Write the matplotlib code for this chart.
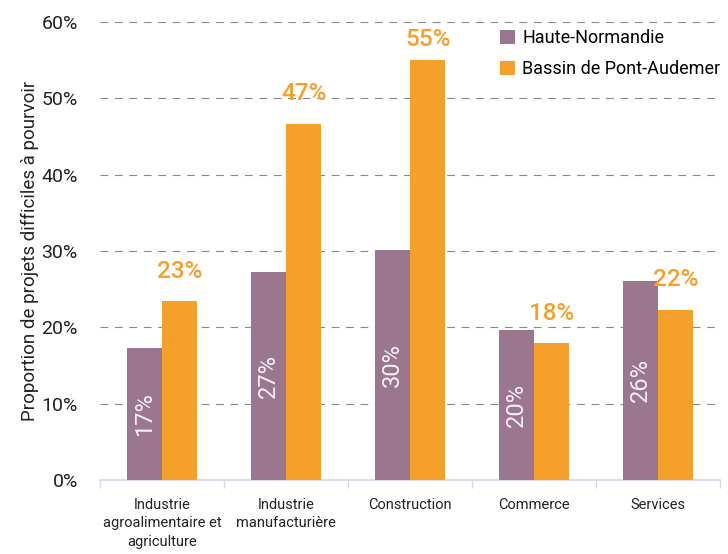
import numpy as np
import matplotlib
matplotlib.use('Agg')
import matplotlib.pyplot as plt

plt.rcParams['font.family'] = ['Roboto', 'DejaVu Sans']

categories = ['Industrie\nagroalimentaire et\nagriculture', 'Industrie\nmanufacturière',
              'Construction', 'Commerce', 'Services']
haute_normandie = [17.3, 27.3, 30.1, 19.7, 26.1]
pont_audemer = [23.4, 46.7, 55.0, 17.9, 22.3]
hn_labels = ['17%', '27%', '30%', '20%', '26%']
pa_labels = ['23%', '47%', '55%', '18%', '22%']
yticks = [0, 10, 20, 30, 40, 50, 60]

PURPLE = '#9a778f'
ORANGE = '#f6a02c'

fig = plt.figure(figsize=(7.28, 5.54), dpi=100)
ax = fig.add_axes([100/728, 74/554, 620/728, 458/554])

x = np.arange(len(categories))
w = 0.285
b1 = ax.bar(x - w/2, haute_normandie, w, color=PURPLE, label='Haute-Normandie', zorder=3)
b2 = ax.bar(x + w/2, pont_audemer, w, color=ORANGE, label='Bassin de Pont-Audemer', zorder=3)

for xi, v, lab in zip(x, haute_normandie, hn_labels):
    ax.text(xi - w/2, v/2, lab, rotation=90, ha='center', va='center',
            color='#f4eef2', fontsize=17, zorder=4)
for xi, v, lab in zip(x, pont_audemer, pa_labels):
    ax.text(xi + w/2, min(v + 2.4, 56.2), lab, ha='center', va='bottom',
            color=ORANGE, fontsize=17.5, fontweight='medium', zorder=4)

ax.set_xlim(-0.5, len(categories) - 0.5)
ax.set_ylim(0, 60)
ax.set_yticks(yticks)
ax.set_yticklabels([f'{t}%' for t in yticks], fontsize=14, color='#222222')
ax.yaxis.grid(True, color='#888888', linestyle=(0, (7, 6)), linewidth=0.8, zorder=0)
ax.tick_params(axis='y', length=0, pad=16)

ax.set_xticks(x)
ax.set_xticklabels(categories, fontsize=10.5, color='#222222', linespacing=1.4)
ax.set_xticks(np.arange(-0.5, len(categories)), minor=True)
ax.tick_params(axis='x', which='major', length=0, pad=13)
ax.tick_params(axis='x', which='minor', length=6, color='#d6d6e4', width=1)

for s in ['top', 'right', 'left']:
    ax.spines[s].set_visible(False)
ax.spines['bottom'].set_color('#d6d6e4')
ax.spines['bottom'].set_linewidth(1.2)

ax.set_ylabel('Proportion de projets difficiles à pourvoir', fontsize=13.5,
              color='#222222', labelpad=2)

leg = fig.legend(handles=[b1, b2], loc='upper left', bbox_to_anchor=(495/728, 1 - 24/554),
                 frameon=True, fontsize=13, handlelength=0.8, handleheight=0.8,
                 handletextpad=0.4, labelspacing=0.7, borderpad=0.3, borderaxespad=0)
leg.get_frame().set_edgecolor('none')
leg.get_frame().set_facecolor('white')
leg.get_frame().set_alpha(1)

fig.savefig('out.png', dpi=100)
